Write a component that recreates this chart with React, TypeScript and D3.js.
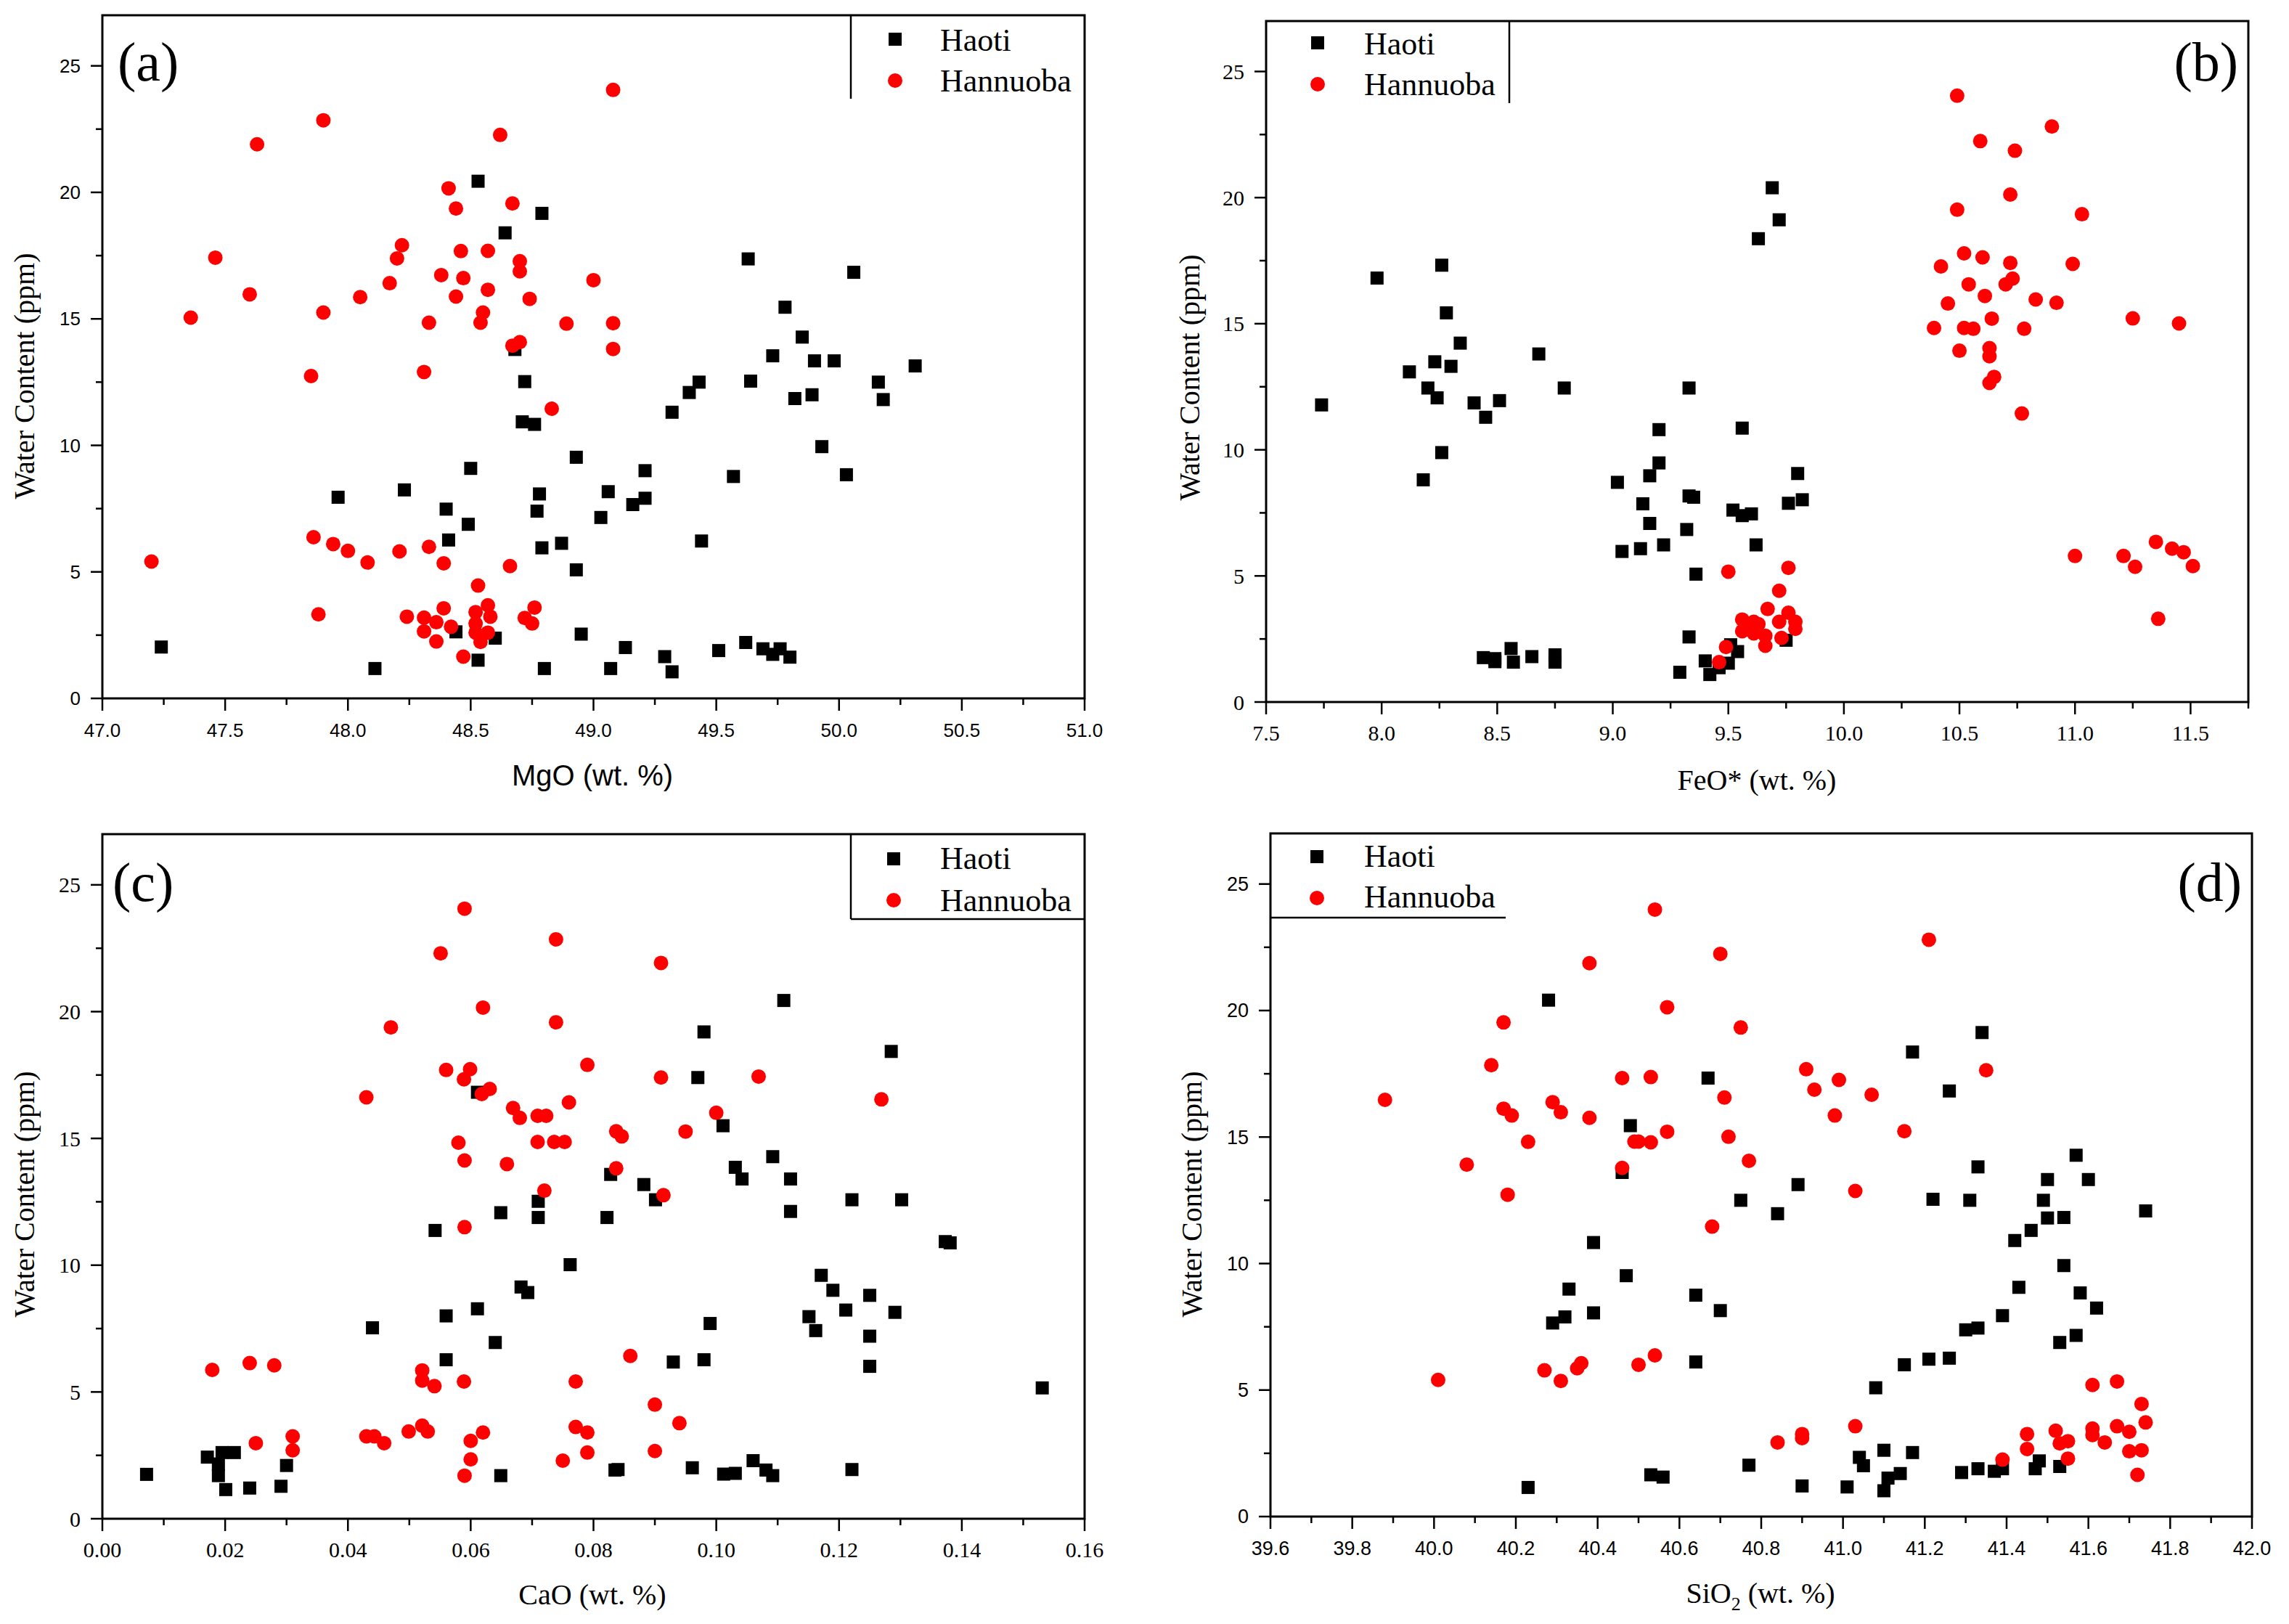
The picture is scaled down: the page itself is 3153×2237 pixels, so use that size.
import React from 'react';
import * as d3 from 'd3';

type Pt = [number, number];

const W = 3153;
const H = 2237;

// series names
const seriesNames = ['Haoti', 'Hannuoba'];

// y axis (water content, ppm), shared by all panels
const yDomain: [number, number] = [0, 27];
const yTicks = [0, 5, 10, 15, 20, 25];

// x tick labels
const mgoTicks = [47.0, 47.5, 48.0, 48.5, 49.0, 49.5, 50.0, 50.5, 51.0];
const feoTicks = [7.5, 8.0, 8.5, 9.0, 9.5, 10.0, 10.5, 11.0, 11.5];
const caoTicks = [0, 0.02, 0.04, 0.06, 0.08, 0.1, 0.12, 0.14, 0.16];
const sio2Ticks = [39.6, 39.8, 40.0, 40.2, 40.4, 40.6, 40.8, 41.0, 41.2, 41.4, 41.6, 41.8, 42.0];

// (a) MgO vs water
const mgoHaoti: Pt[] = [
  [47.24, 2.03], [48.11, 1.18], [48.44, 2.63], [48.53, 1.51], [48.6, 2.38], [48.95, 2.54], [48.8, 1.18], [49.07, 1.18],
  [48.53, 20.44], [48.79, 19.17], [48.64, 18.4], [48.68, 13.79], [48.72, 12.52], [48.71, 10.93], [48.76, 10.83],
  [48.93, 9.53], [48.5, 9.09], [47.96, 7.95], [48.23, 8.24], [48.4, 7.48], [48.78, 8.08], [49.06, 8.17], [48.49, 6.88],
  [48.41, 6.26], [48.77, 7.4], [49.03, 7.15], [48.87, 6.13], [48.79, 5.95], [48.93, 5.08],
  [49.63, 17.37], [50.06, 16.84], [49.78, 15.46], [49.85, 14.28], [49.73, 13.54], [49.9, 13.34], [49.98, 13.34],
  [50.31, 13.14], [49.43, 12.5], [49.39, 12.09], [49.64, 12.54], [49.32, 11.31], [49.82, 11.85], [49.89, 12.0],
  [50.16, 12.5], [50.18, 11.81], [49.93, 9.95], [50.03, 8.84], [49.57, 8.77], [49.21, 9.0], [49.21, 7.91],
  [49.16, 7.66], [49.44, 6.22], [49.13, 2.01], [49.29, 1.65], [49.32, 1.05], [49.51, 1.89], [49.62, 2.21],
  [49.69, 1.96], [49.73, 1.74], [49.76, 1.96], [49.8, 1.63],
];
const mgoHannuoba: Pt[] = [
  [49.08, 24.05], [47.9, 22.85], [47.63, 21.9], [48.62, 22.27], [48.41, 20.16], [48.44, 19.36], [48.67, 19.56],
  [48.22, 17.91], [48.2, 17.39], [48.46, 17.68], [48.57, 17.69], [48.7, 17.28], [48.7, 16.88], [47.46, 17.42],
  [48.38, 16.73], [48.47, 16.61], [49.0, 16.53], [48.17, 16.41], [47.6, 15.97], [48.05, 15.86], [48.44, 15.88],
  [48.57, 16.15], [48.74, 15.79], [47.36, 15.05], [47.9, 15.25], [48.55, 15.25], [48.54, 14.85], [48.33, 14.85],
  [48.89, 14.81], [49.08, 14.83], [49.08, 13.81], [48.67, 13.94], [48.7, 14.08], [48.31, 12.9], [47.85, 12.74],
  [48.83, 11.45],
  [47.86, 6.37], [47.94, 6.1], [48.0, 5.83], [48.08, 5.37], [47.2, 5.41], [48.21, 5.81], [48.33, 5.99], [48.39, 5.34],
  [48.66, 5.23], [48.53, 4.46], [47.88, 3.32], [48.24, 3.23], [48.31, 3.19], [48.31, 2.65], [48.39, 3.56],
  [48.36, 3.01], [48.42, 2.83], [48.36, 2.25], [48.47, 1.65], [48.57, 3.68], [48.52, 3.41], [48.58, 3.23],
  [48.52, 2.96], [48.57, 2.6], [48.54, 2.23], [48.52, 2.6], [48.76, 3.59], [48.72, 3.18], [48.75, 2.96],
];

// (b) FeO* vs water
const feoHaoti: Pt[] = [
  [7.74, 11.78], [7.98, 16.81], [8.26, 17.32], [8.28, 15.43], [8.34, 14.23], [8.23, 13.49], [8.3, 13.31], [8.12, 13.09],
  [8.2, 12.45], [8.24, 12.06], [8.68, 13.8], [8.79, 12.45], [8.4, 11.86], [8.51, 11.95], [8.45, 11.29], [8.26, 9.89],
  [8.18, 8.81], [9.33, 12.45], [9.2, 10.8], [9.56, 10.86], [9.2, 9.48], [9.16, 8.97], [9.02, 8.71], [9.33, 8.17],
  [9.35, 8.12], [9.13, 7.86], [9.16, 7.08], [9.32, 6.84], [9.52, 7.61], [9.56, 7.39], [9.6, 7.46], [9.04, 5.97],
  [9.12, 6.08], [9.22, 6.23], [9.62, 6.23], [9.36, 5.07], [9.33, 2.58],
  [8.44, 1.76], [8.49, 1.72], [8.49, 1.6], [8.56, 2.12], [8.57, 1.58], [8.65, 1.8], [8.75, 1.87], [8.75, 1.58],
  [9.29, 1.18], [9.4, 1.63], [9.42, 1.09], [9.46, 1.36], [9.5, 1.54], [9.51, 2.27], [9.54, 2.0],
  [9.69, 20.39], [9.72, 19.12], [9.63, 18.37], [9.8, 9.06], [9.82, 8.02], [9.76, 7.88], [9.75, 2.45],
];
const feoHannuoba: Pt[] = [
  [10.49, 24.04], [10.9, 22.82], [10.59, 22.24], [10.74, 21.86], [10.72, 20.12], [10.49, 19.52], [11.03, 19.34],
  [10.52, 17.79], [10.6, 17.63], [10.42, 17.27], [10.72, 17.41], [10.99, 17.37], [10.73, 16.79], [10.7, 16.56],
  [10.54, 16.56], [10.61, 16.1], [10.45, 15.8], [10.83, 15.96], [10.92, 15.83], [10.64, 15.2], [11.25, 15.21],
  [11.45, 15.01], [10.39, 14.83], [10.52, 14.83], [10.56, 14.8], [10.78, 14.8], [10.5, 13.93], [10.63, 14.03],
  [10.63, 13.71], [10.65, 12.89], [10.63, 12.65], [10.77, 11.44],
  [11.0, 5.79], [11.35, 6.35], [11.21, 5.79], [11.26, 5.36], [11.42, 6.08], [11.47, 5.94], [11.51, 5.39], [11.36, 3.3],
  [9.5, 5.17], [9.49, 2.18], [9.46, 1.58], [9.56, 3.27], [9.58, 2.9], [9.61, 3.18], [9.76, 5.32], [9.72, 4.41],
  [9.63, 3.09], [9.67, 3.69], [9.76, 3.54], [9.79, 3.18], [9.72, 3.18], [9.56, 2.81], [9.61, 2.72], [9.66, 2.63],
  [9.73, 2.54], [9.79, 2.9], [9.66, 2.23],
];

// (c) CaO vs water
const caoHaoti: Pt[] = [
  [0.0072, 1.75], [0.0171, 2.43], [0.0189, 2.16], [0.0189, 1.7], [0.0195, 2.61], [0.0215, 2.61], [0.0201, 1.15],
  [0.024, 1.21], [0.0291, 1.28], [0.03, 2.1], [0.0542, 11.37], [0.0611, 16.82], [0.0649, 12.07], [0.071, 12.52],
  [0.071, 11.88], [0.0828, 13.58], [0.0822, 11.88], [0.0762, 10.02], [0.0682, 9.14], [0.0693, 8.92], [0.0611, 8.28],
  [0.056, 8.0], [0.044, 7.53], [0.064, 6.95], [0.056, 6.27], [0.0649, 1.7], [0.0835, 1.92],
  [0.111, 20.44], [0.098, 19.2], [0.1285, 18.43], [0.097, 17.4], [0.1011, 15.5], [0.1092, 14.28], [0.1031, 13.86],
  [0.1042, 13.4], [0.1121, 13.4], [0.0882, 13.18], [0.0901, 12.58], [0.1121, 12.12], [0.1221, 12.58], [0.1302, 12.58],
  [0.1373, 10.93], [0.1381, 10.88], [0.1171, 9.6], [0.119, 9.01], [0.125, 8.81], [0.1211, 8.23], [0.1291, 8.14],
  [0.1151, 7.97], [0.1162, 7.42], [0.125, 7.2], [0.125, 6.01], [0.099, 7.7], [0.093, 6.18], [0.098, 6.27],
  [0.1531, 5.16], [0.084, 1.94], [0.0961, 2.01], [0.1012, 1.76], [0.1031, 1.79], [0.106, 2.29], [0.1081, 1.92],
  [0.1092, 1.7], [0.1221, 1.94],
];
const caoHannuoba: Pt[] = [
  [0.059, 24.06], [0.0739, 22.85], [0.0551, 22.3], [0.062, 20.16], [0.0739, 19.58], [0.047, 19.38], [0.079, 17.9],
  [0.056, 17.7], [0.0599, 17.73], [0.0589, 17.33], [0.0631, 16.95], [0.0618, 16.75], [0.043, 16.62], [0.076, 16.42],
  [0.0669, 16.2], [0.068, 15.81], [0.0709, 15.89], [0.0723, 15.89], [0.0837, 15.28], [0.058, 14.83], [0.0709, 14.86],
  [0.0736, 14.86], [0.0753, 14.86], [0.059, 14.13], [0.0659, 13.99], [0.0837, 13.82], [0.072, 12.94], [0.059, 11.5],
  [0.0179, 5.87], [0.024, 6.14], [0.028, 6.05], [0.0521, 5.85], [0.0521, 5.45], [0.0541, 5.23], [0.0589, 5.41],
  [0.0771, 5.41], [0.025, 2.98], [0.031, 3.25], [0.031, 2.7], [0.043, 3.25], [0.0443, 3.25], [0.0459, 2.98],
  [0.0499, 3.44], [0.0521, 3.67], [0.053, 3.44], [0.06, 3.07], [0.062, 3.4], [0.06, 2.34], [0.059, 1.7],
  [0.0771, 3.62], [0.079, 3.4], [0.079, 2.61], [0.075, 2.29],
  [0.091, 21.92], [0.091, 17.4], [0.1069, 17.44], [0.1269, 16.54], [0.1, 16.01], [0.095, 15.27], [0.0846, 15.08],
  [0.0914, 12.76], [0.086, 6.42], [0.09, 4.5], [0.094, 3.77], [0.09, 2.67],
];

// (d) SiO2 vs water
const sio2Haoti: Pt[] = [
  [40.28, 20.41], [40.67, 17.33], [40.48, 15.45], [40.46, 13.6], [40.75, 12.5], [40.39, 10.83], [40.47, 9.52],
  [40.33, 8.99], [40.64, 8.75], [40.7, 8.14], [40.32, 7.89], [40.29, 7.65], [40.39, 8.05], [40.64, 6.11],
  [40.23, 1.15], [40.53, 1.65], [40.56, 1.56], [40.77, 2.03],
  [41.34, 19.13], [41.17, 18.36], [41.26, 16.82], [41.57, 14.28], [41.33, 13.82], [41.5, 13.32], [41.6, 13.32],
  [40.89, 13.12], [40.84, 11.97], [41.22, 12.54], [41.31, 12.5], [41.49, 12.5], [41.5, 11.8], [41.54, 11.82],
  [41.74, 12.08], [41.46, 11.31], [41.42, 10.91], [41.54, 9.92], [41.43, 9.06], [41.58, 8.84], [41.62, 8.24],
  [41.39, 7.94], [41.3, 7.38], [41.33, 7.45], [41.53, 6.88], [41.57, 7.16], [41.15, 6.0], [41.21, 6.22],
  [41.26, 6.26], [41.08, 5.09], [40.9, 1.21], [41.01, 1.17], [41.04, 2.34], [41.05, 2.01], [41.1, 2.62],
  [41.17, 2.53], [41.1, 1.02], [41.11, 1.52], [41.14, 1.7], [41.29, 1.74], [41.33, 1.89], [41.37, 1.79],
  [41.39, 1.89], [41.47, 1.89], [41.48, 2.2], [41.53, 1.98],
];
const sio2Hannuoba: Pt[] = [
  [40.54, 23.99], [40.38, 21.87], [40.7, 22.24], [40.57, 20.13], [40.17, 19.53], [40.75, 19.33], [40.14, 17.84],
  [40.46, 17.33], [40.53, 17.37], [39.88, 16.47], [40.71, 16.56], [40.17, 16.12], [40.19, 15.85], [40.29, 16.38],
  [40.31, 15.98], [40.38, 15.76], [40.57, 15.21], [40.23, 14.81], [40.49, 14.82], [40.5, 14.82], [40.53, 14.79],
  [40.72, 15.01], [40.08, 13.91], [40.46, 13.78], [40.77, 14.06], [40.18, 12.72], [40.68, 11.46], [40.01, 5.4],
  [40.27, 5.78], [40.31, 5.36], [40.35, 5.86], [40.36, 6.06], [40.5, 6.0], [40.54, 6.37],
  [41.21, 22.8], [40.91, 17.68], [40.93, 16.87], [40.99, 17.26], [41.07, 16.67], [40.98, 15.85], [41.15, 15.23],
  [41.35, 17.64], [41.03, 12.87], [41.61, 5.2], [41.67, 5.34], [41.73, 4.45], [41.74, 3.72], [40.84, 2.93],
  [40.9, 3.26], [40.9, 3.1], [41.03, 3.57], [41.39, 2.25], [41.45, 3.26], [41.45, 2.67], [41.52, 3.39],
  [41.53, 2.89], [41.55, 2.98], [41.55, 2.29], [41.61, 3.48], [41.61, 3.22], [41.64, 2.93], [41.67, 3.57],
  [41.7, 3.35], [41.7, 2.58], [41.73, 2.62], [41.72, 1.65],
];

const SERIF = '"Liberation Serif", "Times New Roman", serif';
const SANS = '"Liberation Sans", Arial, sans-serif';

const panels = [
  {
    key: 'a', tag: '(a)', tagX: 162, tagY: 111, tagAnchor: 'start',
    left: 141, right: 1494, top: 21, bottom: 962,
    xDomain: [47, 51], xTicks: mgoTicks, minor: 0.25, fmt: '.1f', tickFont: SANS, tickSize: 26,
    xTitle: 'MgO (wt. %)', xTitleFont: SANS, xTitleX: 816, xTitleY: 1082,
    yTitleX: 47, yTitleY: 518,
    haoti: mgoHaoti, hannuoba: mgoHannuoba,
    legend: { mx: 1233, my: [54, 111], tx: 1295, ty: [70, 126], lines: [[1172, 21, 1172, 136]] },
  },
  {
    key: 'b', tag: '(b)', tagX: 3083, tagY: 111, tagAnchor: 'end',
    left: 1744, right: 3097, top: 29, bottom: 967,
    xDomain: [7.5, 11.75], xTicks: feoTicks, minor: 0.25, fmt: '.1f', tickFont: SERIF, tickSize: 30,
    xTitle: 'FeO* (wt. %)', xTitleFont: SERIF, xTitleX: 2420, xTitleY: 1088,
    yTitleX: 1652, yTitleY: 520,
    haoti: feoHaoti, hannuoba: feoHannuoba,
    legend: { mx: 1815, my: [59, 116], tx: 1879, ty: [75, 131], lines: [[2079, 29, 2079, 142]] },
  },
  {
    key: 'c', tag: '(c)', tagX: 155, tagY: 1241, tagAnchor: 'start',
    left: 141, right: 1494, top: 1149, bottom: 2092,
    xDomain: [0, 0.16], xTicks: caoTicks, minor: 0.01, fmt: '.2f', tickFont: SERIF, tickSize: 30,
    xTitle: 'CaO (wt. %)', xTitleFont: SERIF, xTitleX: 816, xTitleY: 2210,
    yTitleX: 47, yTitleY: 1645,
    haoti: caoHaoti, hannuoba: caoHannuoba,
    legend: { mx: 1231, my: [1183, 1240], tx: 1295, ty: [1197, 1255], lines: [[1172, 1149, 1172, 1266], [1172, 1266, 1494, 1266]] },
  },
  {
    key: 'd', tag: '(d)', tagX: 3088, tagY: 1241, tagAnchor: 'end',
    left: 1750, right: 3102, top: 1148, bottom: 2089,
    xDomain: [39.6, 42.0], xTicks: sio2Ticks, minor: 0.1, fmt: '.1f', tickFont: SANS, tickSize: 27,
    xTitle: 'SiO2', xTitleFont: SERIF, xTitleX: 2425, xTitleY: 2208,
    yTitleX: 1655, yTitleY: 1645,
    haoti: sio2Haoti, hannuoba: sio2Hannuoba,
    legend: { mx: 1814, my: [1180, 1237], tx: 1879, ty: [1194, 1250], lines: [[1750, 1264, 2074, 1264]] },
  },
];

const SQ = 18;
const R = 10;

function stepTicks(d0: number, d1: number, step: number) {
  const n = Math.round((d1 - d0) / step);
  return d3.range(0, n + 1).map((i) => d0 + i * step);
}

const Panel = ({ p }: { p: any }) => {
  const x = d3.scaleLinear().domain(p.xDomain).range([p.left, p.right]);
  const y = d3.scaleLinear().domain(yDomain).range([p.bottom, p.top]);
  const fmt = d3.format(p.fmt);
  const xMinor = stepTicks(p.xDomain[0], p.xDomain[1], p.minor);
  const yMinor = stepTicks(0, 25, 2.5);
  const isMajorX = (v: number) => p.xTicks.some((t: number) => Math.abs(t - v) < 1e-6);
  const isMajorY = (v: number) => yTicks.some((t) => Math.abs(t - v) < 1e-6);

  return (
    <g>
      {/* data: Haoti squares, then Hannuoba circles on top */}
      {p.haoti.map((d: Pt, i: number) => (
        <rect key={'h' + i} x={x(d[0]) - SQ / 2} y={y(d[1]) - SQ / 2} width={SQ} height={SQ} fill="#000" />
      ))}
      {p.hannuoba.map((d: Pt, i: number) => (
        <circle key={'n' + i} cx={x(d[0])} cy={y(d[1])} r={R} fill="#ff0000" />
      ))}

      {/* frame */}
      <rect x={p.left} y={p.top} width={p.right - p.left} height={p.bottom - p.top}
        fill="none" stroke="#000" strokeWidth={3} />

      {/* x ticks */}
      {xMinor.map((v) => (
        <line key={'xt' + v} x1={x(v)} x2={x(v)} y1={p.bottom} y2={p.bottom + (isMajorX(v) ? 17 : 9)}
          stroke="#000" strokeWidth={2.5} />
      ))}
      {p.xTicks.map((v: number) => (
        <text key={'xl' + v} x={x(v)} y={p.bottom + 53} textAnchor="middle"
          fontFamily={p.tickFont} fontSize={p.tickSize} fill="#000">{fmt(v)}</text>
      ))}

      {/* y ticks */}
      {yMinor.map((v) => (
        <line key={'yt' + v} x1={p.left - (isMajorY(v) ? 16 : 9)} x2={p.left} y1={y(v)} y2={y(v)}
          stroke="#000" strokeWidth={2.5} />
      ))}
      {yTicks.map((v) => (
        <text key={'yl' + v} x={p.left - 30} y={y(v)} dy="0.35em" textAnchor="end"
          fontFamily={p.tickFont} fontSize={p.tickSize} fill="#000">{v}</text>
      ))}

      {/* axis titles */}
      <text x={p.xTitleX} y={p.xTitleY} textAnchor="middle" fontFamily={p.xTitleFont} fontSize={40} fill="#000">
        {p.key === 'd' ? (
          <>
            <tspan>SiO</tspan>
            <tspan dy={10} fontSize={26}>2</tspan>
            <tspan dy={-10}> (wt. %)</tspan>
          </>
        ) : p.xTitle}
      </text>
      <text transform={`translate(${p.yTitleX},${p.yTitleY}) rotate(-90)`} textAnchor="middle"
        fontFamily={SERIF} fontSize={40} fill="#000">Water Content (ppm)</text>

      {/* panel tag */}
      <text x={p.tagX} y={p.tagY} textAnchor={p.tagAnchor} fontFamily={SERIF} fontSize={76} fill="#000">{p.tag}</text>

      {/* legend */}
      {p.legend.lines.map((l: number[], i: number) => (
        <line key={'ll' + i} x1={l[0]} y1={l[1]} x2={l[2]} y2={l[3]} stroke="#000" strokeWidth={2.5} />
      ))}
      <rect x={p.legend.mx - SQ / 2} y={p.legend.my[0] - SQ / 2} width={SQ} height={SQ} fill="#000" />
      <circle cx={p.legend.mx} cy={p.legend.my[1]} r={R} fill="#ff0000" />
      {seriesNames.map((s, i) => (
        <text key={s} x={p.legend.tx} y={p.legend.ty[i]} fontFamily={SERIF} fontSize={44} fill="#000">{s}</text>
      ))}
    </g>
  );
};

export default function App() {
  return (
    <svg width={W} height={H} style={{ position: 'absolute', left: 0, top: 0 }}>
      <rect width={W} height={H} fill="#fff" />
      {panels.map((p) => <Panel key={p.key} p={p} />)}
    </svg>
  );
}
